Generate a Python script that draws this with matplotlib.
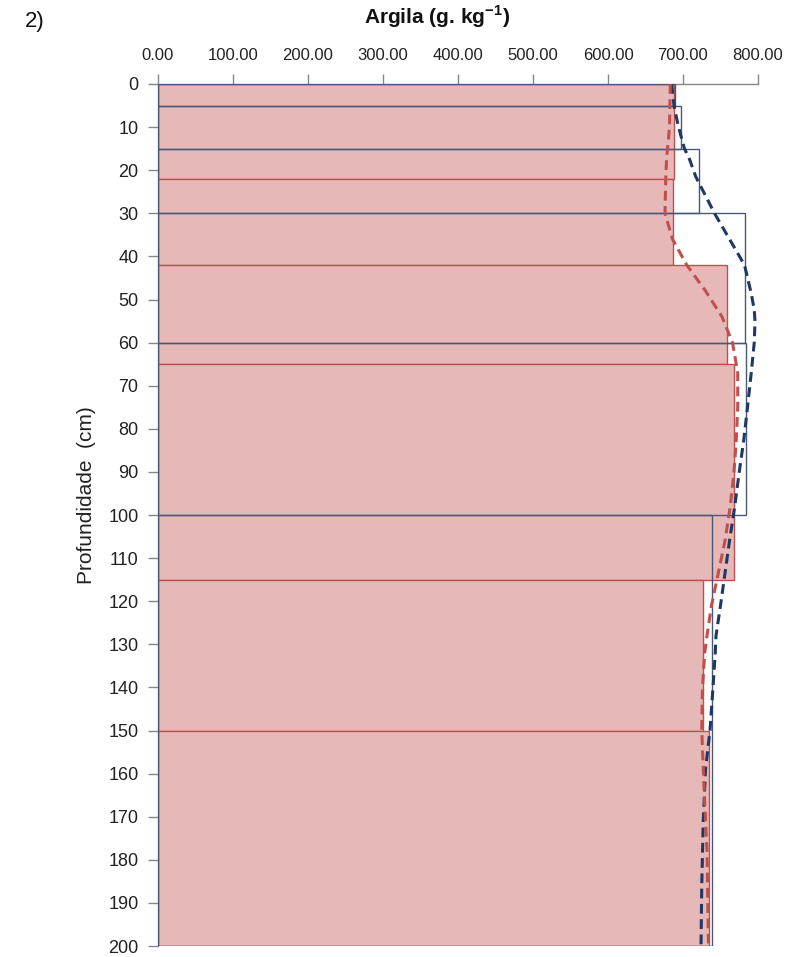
import matplotlib
matplotlib.use("Agg")
import matplotlib.pyplot as plt

# Argila por horizonte (perfil azul = contorno, perfil vermelho = preenchido)
topo_azul = [0, 5, 15, 30, 60, 100]
base_azul = [5, 15, 30, 60, 100, 200]
argila_azul = [689, 697, 721, 782, 784, 739]

topo_verm = [0, 22, 42, 65, 115, 150]
base_verm = [22, 42, 65, 115, 150, 200]
argila_verm = [688, 686, 759, 768, 727, 734]

# curvas suavizadas em profundidade
prof_curva_azul = [0, 5, 10, 15, 17.6, 21.5, 30, 36, 42, 48.6, 52.4, 55, 60, 67, 75,
                   82.6, 90, 98, 106, 113.5, 121, 128, 132, 140, 150, 159, 171, 186, 200]
curva_azul = [685, 688, 694, 702, 709, 717, 742, 762, 782, 791, 795, 796, 795, 791, 786,
              781, 775, 769, 762, 756, 750, 744, 743, 740, 736, 730, 727, 725, 724]

prof_curva_verm = [0, 10, 17.6, 22, 30, 36, 42, 48, 54, 60, 67, 75, 82.6, 90, 98,
                   106, 113.5, 121, 128, 132, 140, 150, 163, 178, 200]
curva_verm = [683, 682, 678, 677, 676, 686, 705, 730, 752, 766, 773, 773, 771, 768, 763,
              756, 747, 738, 732, 729, 726, 725, 728, 732, 734]

plt.rcParams['font.family'] = ['Liberation Sans', 'DejaVu Sans']
plt.rcParams['mathtext.fontset'] = 'custom'
plt.rcParams['mathtext.rm'] = 'Liberation Sans'
plt.rcParams['mathtext.bf'] = 'Liberation Sans:bold'

fig = plt.figure(figsize=(7.97, 9.57), dpi=100)
ax = fig.add_axes([158 / 797, 11 / 957, 600 / 797, 862 / 957])

esp_verm = [b - t for t, b in zip(topo_verm, base_verm)]
esp_azul = [b - t for t, b in zip(topo_azul, base_azul)]

ax.barh(topo_verm, argila_verm, height=esp_verm, align='edge',
        color='#E6B9B8', edgecolor='#C0504D', linewidth=1.0, zorder=2)
ax.barh(topo_azul, argila_azul, height=esp_azul, align='edge',
        color='none', edgecolor='#4A5877', linewidth=1.0, zorder=3)

ax.plot(curva_azul, prof_curva_azul, color='#1F3864', lw=2.2,
        dashes=(3.2, 1.8), zorder=4)
ax.plot(curva_verm, prof_curva_verm, color='#C0504D', lw=2.2,
        dashes=(3.2, 1.8), zorder=4)

ax.set_xlim(0, 800)
ax.set_ylim(200, 0)
ax.set_xticks(range(0, 801, 100))
ax.set_xticklabels(['%.2f' % v for v in range(0, 801, 100)])
ax.set_yticks(range(0, 201, 10))
ax.xaxis.tick_top()

for s in ['right', 'bottom']:
    ax.spines[s].set_visible(False)
for s in ['left', 'top']:
    ax.spines[s].set_color('#868686')
    ax.spines[s].set_linewidth(1.0)
ax.tick_params(axis='both', direction='out', length=7, width=1.0, color='#868686',
               labelcolor='#222222')
ax.tick_params(axis='x', labelsize=12, pad=8)
ax.tick_params(axis='y', labelsize=13, pad=7)

fig.text(87 / 797, 1 - 495 / 957, 'Profundidade  (cm)', rotation=90, ha='center', va='center',
         fontsize=15, color='#222222')
fig.text(437 / 797, 1 - 17 / 957, r'Argila (g. kg$^{\mathbf{-1}}$)', ha='center', va='center',
         fontsize=15, fontweight='bold', color='#111111')
fig.text(25 / 797, 1 - 22 / 957, '2)', ha='left', va='center', fontsize=16,
         color='#111111')

fig.savefig('out.png', dpi=100)
